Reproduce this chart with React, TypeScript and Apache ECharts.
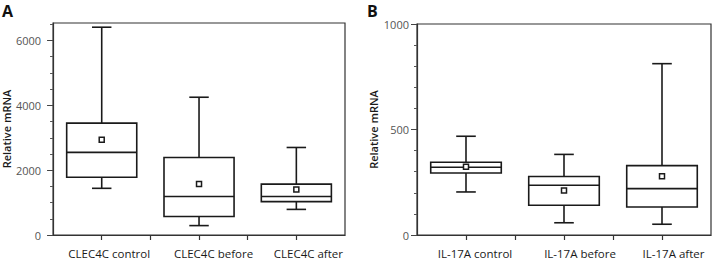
import React, { useEffect, useRef } from "react";
import * as echarts from "echarts";

// Panel A: CLEC4C
const clecCategories = ["CLEC4C control", "CLEC4C before", "CLEC4C after"];
const clecMin = [1440, 290, 790];
const clecQ1 = [1780, 570, 1030];
const clecMedian = [2550, 1190, 1190];
const clecQ3 = [3450, 2390, 1570];
const clecMax = [6410, 4250, 2700];
const clecMean = [2940, 1570, 1405];
const clecMajorTicks = [0, 2000, 4000, 6000];
const clecMinorTicks = [500, 1000, 1500, 2500, 3000, 3500, 4500, 5000, 5500, 6500];

// Panel B: IL-17A
const ilCategories = ["IL-17A control", "IL-17A before", "IL-17A after"];
const ilMin = [204, 58, 51];
const ilQ1 = [294, 141, 133];
const ilMedian = [321, 236, 220];
const ilQ3 = [345, 277, 329];
const ilMax = [468, 382, 812];
const ilMean = [323, 211, 278];
const ilMajorTicks = [0, 500, 1000];
const ilMinorTicks = [100, 200, 300, 400, 600, 700, 800, 900];

// layout (pixel offsets of category labels, as in the reference)
const clecLabelShift = [7.5, 14.5, 12];
const ilLabelShift = [9, 16, 11.5];

const FONT = "Open Sans";
const INK = "#1a1a1a";

function buildData(min: number[], q1: number[], med: number[], q3: number[], max: number[], mean: number[]) {
  return min.map((_, i) => [i, min[i], q1[i], med[i], q3[i], max[i], mean[i]]);
}

function renderBox(params: any, api: any) {
  const x = api.value(0);
  const band = api.size([1, 0])[0];
  const bw = band * 0.72;
  const cw = band * 0.2;
  const pMin = api.coord([x, api.value(1)]);
  const pQ1 = api.coord([x, api.value(2)]);
  const pMed = api.coord([x, api.value(3)]);
  const pQ3 = api.coord([x, api.value(4)]);
  const pMax = api.coord([x, api.value(5)]);
  const pMean = api.coord([x, api.value(6)]);
  const cx = pMed[0];
  const st = { stroke: INK, lineWidth: 1.6, fill: null };
  const ln = (x1: number, y1: number, x2: number, y2: number) => ({
    type: "line",
    shape: { x1, y1, x2, y2 },
    style: st,
  });
  const s = 5;
  return {
    type: "group",
    children: [
      ln(cx, pQ3[1], cx, pMax[1]),
      ln(cx, pQ1[1], cx, pMin[1]),
      ln(cx - cw / 2, pMax[1], cx + cw / 2, pMax[1]),
      ln(cx - cw / 2, pMin[1], cx + cw / 2, pMin[1]),
      {
        type: "rect",
        shape: { x: cx - bw / 2, y: pQ3[1], width: bw, height: pQ1[1] - pQ3[1] },
        style: { stroke: INK, lineWidth: 1.6, fill: "#ffffff" },
      },
      ln(cx - bw / 2, pMed[1], cx + bw / 2, pMed[1]),
      {
        type: "rect",
        shape: { x: cx - s / 2, y: pMean[1] - s / 2, width: s, height: s },
        style: { stroke: INK, lineWidth: 1.5, fill: "#ffffff" },
      },
    ],
  };
}

function xAxis(gridIndex: number, cats: string[], shifts: number[]) {
  const rich: any = {};
  shifts.forEach((sh, i) => {
    rich["s" + i] = {
      fontSize: 11.5,
      fontFamily: FONT,
      fontWeight: 500,
      color: "#1a1a1a",
      padding: [0, 0, 0, sh * 2],
    };
  });
  return {
    type: "value",
    gridIndex,
    min: -0.5,
    max: 2.5,
    interval: 0.5,
    splitLine: { show: false },
    axisLine: { show: true, onZero: false, lineStyle: { color: "#333", width: 1.2 } },
    axisTick: {
      show: true,
      length: 5,
      customValues: [0, 0.5, 1, 1.5, 2],
      lineStyle: { color: "#333", width: 1.2 },
    },
    axisLabel: {
      customValues: [0, 1, 2],
      formatter: (v: number) => {
        const i = Math.round(v);
        return cats[i] ? `{s${i}|${cats[i]}}` : "";
      },
      margin: 12,
      fontSize: 11.5,
      fontFamily: FONT,
      color: "#1a1a1a",
      rich,
    },
  };
}

function yMajor(gridIndex: number, max: number, ticks: number[], labelMargin: number, nameGap: number) {
  return {
    type: "value",
    gridIndex,
    min: 0,
    max,
    position: "left",
    splitLine: { show: false },
    axisLine: { show: true, onZero: false, lineStyle: { color: "#333", width: 1.2 } },
    axisTick: { show: true, length: 6, customValues: ticks, lineStyle: { color: "#444", width: 1 } },
    axisLabel: {
      customValues: ticks,
      formatter: (v: number) => String(v),
      margin: labelMargin,
      fontSize: 11,
      fontFamily: FONT,
      color: "#555",
    },
    name: "Relative mRNA",
    nameLocation: "middle",
    nameGap,
    nameTextStyle: { fontSize: 11, fontFamily: FONT, color: "#1a1a1a", fontWeight: 600 },
  };
}

function yMinor(gridIndex: number, max: number, ticks: number[]) {
  return {
    type: "value",
    gridIndex,
    min: 0,
    max,
    position: "left",
    splitLine: { show: false },
    axisLine: { show: false, onZero: false },
    axisTick: { show: true, length: 3, customValues: ticks, lineStyle: { color: "#555", width: 1 } },
    axisLabel: { show: false },
  };
}

export default function App() {
  const ref = useRef<HTMLDivElement>(null);
  useEffect(() => {
    if (!ref.current) return;
    const chart = echarts.init(ref.current, null, { renderer: "svg" });
    chart.setOption({
      animation: false,
      backgroundColor: "#ffffff",
      textStyle: { fontFamily: FONT },
      grid: [
        { left: 51, top: 23, width: 294, bottom: 23.5, show: true, borderColor: "#333", borderWidth: 1.2, backgroundColor: "transparent" },
        { left: 417, top: 24, width: 294, bottom: 23.5, show: true, borderColor: "#333", borderWidth: 1.2, backgroundColor: "transparent" },
      ],
      xAxis: [xAxis(0, clecCategories, clecLabelShift), xAxis(1, ilCategories, ilLabelShift)],
      yAxis: [
        yMajor(0, 6540, clecMajorTicks, 12, 41),
        yMinor(0, 6540, clecMinorTicks),
        yMajor(1, 1000, ilMajorTicks, 8, 38),
        yMinor(1, 1000, ilMinorTicks),
      ],
      graphic: [
        { type: "text", left: 2, top: 3, style: { text: "A", fontSize: 16, fontWeight: "bold", fontFamily: FONT, fill: "#111" } },
        { type: "text", left: 367, top: 3, style: { text: "B", fontSize: 16, fontWeight: "bold", fontFamily: FONT, fill: "#111" } },
      ],
      series: [
        {
          type: "custom",
          coordinateSystem: "cartesian2d",
          xAxisIndex: 0,
          yAxisIndex: 0,
          renderItem: renderBox,
          encode: { x: 0, y: [1, 2, 3, 4, 5, 6] },
          data: buildData(clecMin, clecQ1, clecMedian, clecQ3, clecMax, clecMean),
        },
        {
          type: "custom",
          coordinateSystem: "cartesian2d",
          xAxisIndex: 1,
          yAxisIndex: 2,
          renderItem: renderBox,
          encode: { x: 0, y: [1, 2, 3, 4, 5, 6] },
          data: buildData(ilMin, ilQ1, ilMedian, ilQ3, ilMax, ilMean),
        },
      ],
    });
    return () => chart.dispose();
  }, []);
  return (
    <div
      ref={ref}
      style={{ position: "fixed", left: 0, top: 0, width: 712, height: 259 }}
    />
  );
}
